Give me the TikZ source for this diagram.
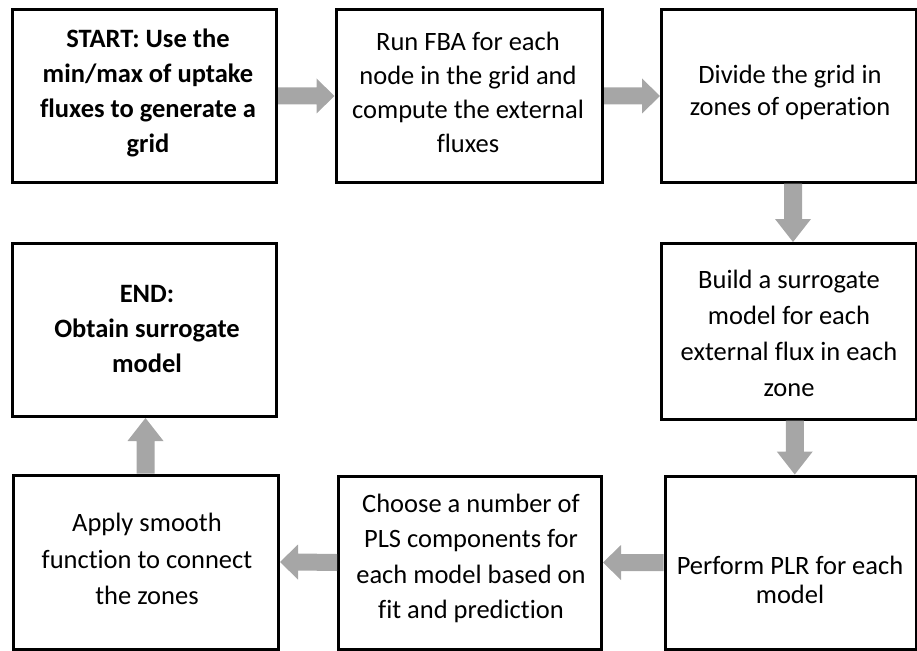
\documentclass[tikz,border=0pt]{standalone}
\usepackage{fontspec}
\setmainfont{Carlito}[Ligatures=NoCommon]
\usetikzlibrary{calc}
\definecolor{arrowgray}{RGB}{166,166,166}
\begin{document}
\begin{tikzpicture}[x=1pt,y=-1pt,
  box/.style={draw=black, line width=3pt, inner sep=0pt, fill=white},
  txt/.style={align=center, inner sep=0pt, font=\fontsize{26.5}{34}\selectfont},
  arrowfill/.style={fill=arrowgray}]
\useasboundingbox (0,0) rectangle (917,650);
% boxes
\node[box, minimum width=264.5, minimum height=172] (b1) at (144.25,96) {};
\node[box, minimum width=266.5, minimum height=172] (b2) at (469.25,96) {};
\node[box, minimum width=254.5, minimum height=172] (b3) at (788.75,96) {};
\node[box, minimum width=254.5, minimum height=175.5] (b4) at (788.75,331.25) {};
\node[box, minimum width=264.5, minimum height=173] (b5) at (144.25,330) {};
\node[box, minimum width=265, minimum height=174] (b6) at (146,562) {};
\node[box, minimum width=263, minimum height=173] (b7) at (470,562.5) {};
\node[box, minimum width=251, minimum height=173] (b8) at (790.5,562.5) {};
% texts
\node[txt, font=\fontsize{26.5}{35}\selectfont\bfseries] (t1) at (148,93) {START: Use the\\min/max of uptake\\fluxes to generate a\\grid};
\node[txt] (t2) at (468,92) {Run FBA for each\\node in the grid and\\compute the external\\fluxes};
\node[txt, font=\fontsize{26.5}{32}\selectfont] (t3) at (790,92) {Divide the grid in\\zones of operation};
\node[txt, font=\fontsize{26.5}{36}\selectfont] (t4) at (789,333) {Build a surrogate\\model for each\\external flux in each\\zone};
\node[txt, font=\fontsize{26.5}{35}\selectfont\bfseries] (t5) at (147,329) {END:\\Obtain surrogate\\model};
\node[txt, font=\fontsize{26.5}{36.5}\selectfont] (t6) at (147,559) {Apply smooth\\function to connect\\the zones};
\node[txt, font=\fontsize{26.5}{35.5}\selectfont] (t7) at (471,558.5) {Choose a number of\\PLS components for\\each model based on\\fit and prediction};
\node[txt, font=\fontsize{26.5}{29}\selectfont] (t8) at (790,580) {Perform PLR for each\\model};
% arrow b1 -> b2
\fill[arrowfill] ([yshift=8.5pt]b1.east) -- ([xshift=-18pt,yshift=8.5pt]b2.west) -- ([xshift=-18pt,yshift=17.5pt]b2.west) -- (b2.west) -- ([xshift=-18pt,yshift=-17.5pt]b2.west) -- ([xshift=-18pt,yshift=-8.5pt]b2.west) -- ([yshift=-8.5pt]b1.east) -- cycle;
% arrow b2 -> b3
\fill[arrowfill] ([yshift=8.5pt]b2.east) -- ([xshift=-18pt,yshift=8.5pt]b3.west) -- ([xshift=-18pt,yshift=17.5pt]b3.west) -- (b3.west) -- ([xshift=-18pt,yshift=-17.5pt]b3.west) -- ([xshift=-18pt,yshift=-8.5pt]b3.west) -- ([yshift=-8.5pt]b2.east) -- cycle;
% arrow b3 -> b4
\coordinate (a3s) at ([xshift=4.25pt]b3.south);
\coordinate (a3e) at (a3s |- b4.north);
\fill[arrowfill] ([xshift=-9pt]a3s) -- ([xshift=-9pt,yshift=23pt]a3e) -- ([xshift=-18pt,yshift=23pt]a3e) -- (a3e) -- ([xshift=18pt,yshift=23pt]a3e) -- ([xshift=9pt,yshift=23pt]a3e) -- ([xshift=9pt]a3s) -- cycle;
% arrow b4 -> b8
\coordinate (a4s) at ([xshift=6pt]b4.south);
\coordinate (a4e) at (a4s |- b8.north);
\fill[arrowfill] ([xshift=-9pt]a4s) -- ([xshift=-9pt,yshift=23pt]a4e) -- ([xshift=-18pt,yshift=23pt]a4e) -- (a4e) -- ([xshift=18pt,yshift=23pt]a4e) -- ([xshift=9pt,yshift=23pt]a4e) -- ([xshift=9pt]a4s) -- cycle;
% arrow b8 -> b7
\fill[arrowfill] ([yshift=8.5pt]b8.west) -- ([xshift=18pt,yshift=8.5pt]b7.east) -- ([xshift=18pt,yshift=17.5pt]b7.east) -- (b7.east) -- ([xshift=18pt,yshift=-17.5pt]b7.east) -- ([xshift=18pt,yshift=-8.5pt]b7.east) -- ([yshift=-8.5pt]b8.west) -- cycle;
% arrow b7 -> b6
\fill[arrowfill] ([yshift=8.5pt]b7.west) -- ([xshift=18pt,yshift=8.5pt]b6.east) -- ([xshift=18pt,yshift=17.5pt]b6.east) -- (b6.east) -- ([xshift=18pt,yshift=-17.5pt]b6.east) -- ([xshift=18pt,yshift=-8.5pt]b6.east) -- ([yshift=-8.5pt]b7.west) -- cycle;
% arrow b6 -> b5
\coordinate (a7s) at ([xshift=-0.5pt]b6.north);
\coordinate (a7e) at (a7s |- b5.south);
\fill[arrowfill] ([xshift=-9pt]a7s) -- ([xshift=-9pt,yshift=-23pt]a7e) -- ([xshift=-18pt,yshift=-23pt]a7e) -- (a7e) -- ([xshift=18pt,yshift=-23pt]a7e) -- ([xshift=9pt,yshift=-23pt]a7e) -- ([xshift=9pt]a7s) -- cycle;
\end{tikzpicture}
\end{document}
